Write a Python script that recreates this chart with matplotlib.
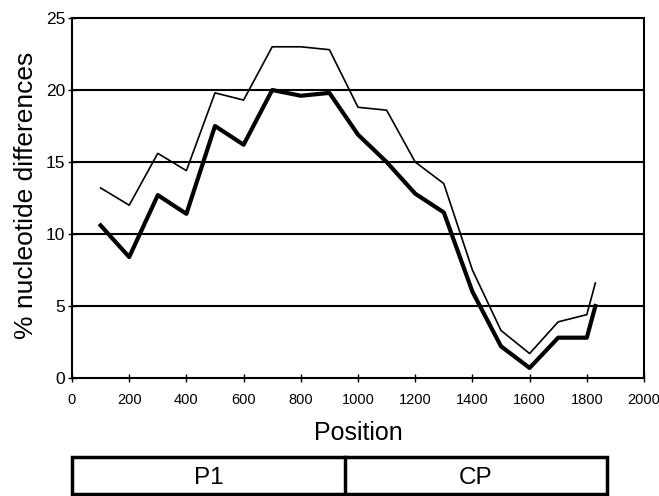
import matplotlib
matplotlib.use("Agg")
import matplotlib.pyplot as plt
from matplotlib.patches import Rectangle

plt.rcParams['font.family'] = ['Liberation Sans', 'DejaVu Sans']

positions = [100, 200, 300, 400, 500, 600, 700, 800, 900, 1000, 1100, 1200, 1300, 1400, 1500, 1600, 1700, 1800, 1830]
thin_values = [13.2, 12.0, 15.6, 14.4, 19.8, 19.3, 23.0, 23.0, 22.8, 18.8, 18.6, 15.0, 13.5, 7.5, 3.3, 1.7, 3.9, 4.4, 6.6]
thick_values = [10.6, 8.4, 12.7, 11.4, 17.5, 16.2, 20.0, 19.6, 19.8, 16.9, 15.0, 12.8, 11.5, 6.0, 2.2, 0.7, 2.8, 2.8, 5.0]
x_ticks = [0, 200, 400, 600, 800, 1000, 1200, 1400, 1600, 1800, 2000]
y_ticks = [0, 5, 10, 15, 20, 25]
gene_labels = ["P1", "CP"]

W, H = 659, 496
fig = plt.figure(figsize=(W/100, H/100), dpi=100)
ax_l, ax_r, ax_t, ax_b = 72, 644, 18, 378
ax = fig.add_axes([ax_l/W, 1-ax_b/H, (ax_r-ax_l)/W, (ax_b-ax_t)/H])

for y in [5, 10, 15, 20]:
    ax.axhline(y, color='black', lw=1.5, zorder=1)
ax.plot(positions, thin_values, color='black', lw=1.2, zorder=3)
ax.plot(positions, thick_values, color='black', lw=3.0, zorder=3)

ax.set_xlim(0, 2000)
ax.set_ylim(0, 25)
ax.set_xticks(x_ticks)
ax.set_yticks(y_ticks)
ax.tick_params(axis='x', labelsize=10.5, length=6, width=1, direction='inout', pad=8, colors='black')
ax.tick_params(axis='y', labelsize=12.5, length=6, width=1, direction='inout', pad=2, colors='black')
for s in ax.spines.values():
    s.set_linewidth(1.5)

fig.text(((ax_l+ax_r)/2)/W, 1-433/H, "Position", ha='center', va='center', fontsize=18)
fig.text(26/W, 1-195/H, "% nucleotide differences", ha='center', va='center',
         rotation=90, fontsize=19)

# gene map box
bx0, bx1, by0, by1 = 72, 607, 457, 494
div = 345
fig.patches.append(Rectangle((bx0/W, 1-by1/H), (bx1-bx0)/W, (by1-by0)/H,
                             transform=fig.transFigure, fill=False, lw=2.5, ec='black'))
fig.add_artist(plt.Line2D([div/W, div/W], [1-by1/H, 1-by0/H], transform=fig.transFigure,
                          color='black', lw=2.5))
fig.text((bx0+div)/2/W, 1-478/H, gene_labels[0], ha='center', va='center', fontsize=17.5)
fig.text((div+bx1)/2/W, 1-478/H, gene_labels[1], ha='center', va='center', fontsize=17.5)

fig.savefig("out.png", dpi=100)
